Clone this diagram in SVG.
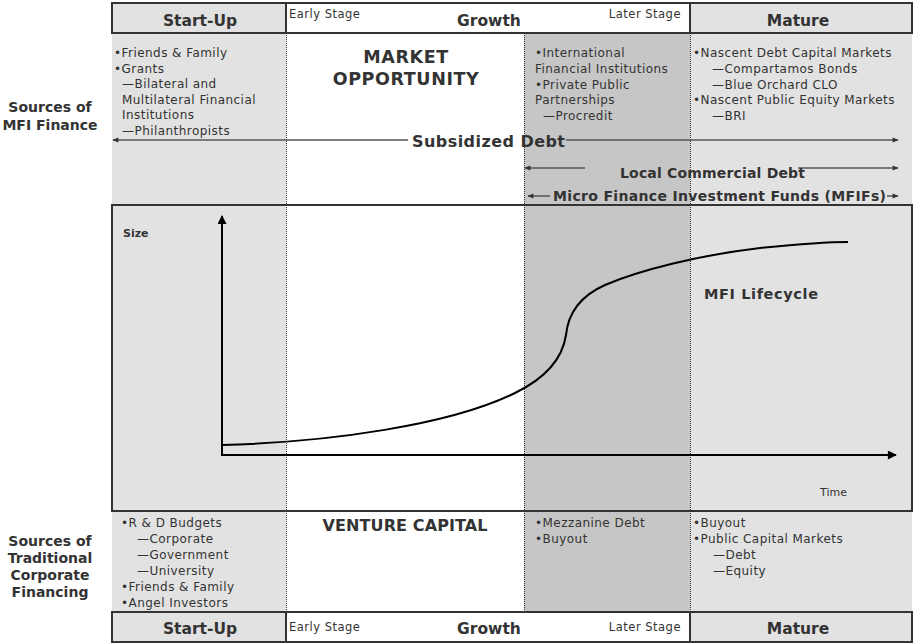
<svg xmlns="http://www.w3.org/2000/svg" width="916" height="644" viewBox="0 0 916 644">
<defs>
<marker id="ah" viewBox="0 0 10 10" refX="9" refY="5" markerWidth="7" markerHeight="6" markerUnits="userSpaceOnUse" orient="auto-start-reverse"><path d="M0,1 L10,5 L0,9 z" fill="#333"/></marker>
<marker id="axh" viewBox="0 0 10 10" refX="9" refY="5" markerWidth="11" markerHeight="9" markerUnits="userSpaceOnUse" orient="auto"><path d="M0,0 L10,5 L0,10 z" fill="#000"/></marker>
<style>
.t{font-family:"DejaVu Sans",Verdana,sans-serif;fill:#333}
.s{font-size:12px;letter-spacing:0.45px}
.sm{font-size:11.5px;letter-spacing:0.5px}
.b{font-weight:bold}
.hd{font-size:15.5px;font-weight:bold;text-anchor:middle}
.mid{text-anchor:middle}
.bg1{fill:#e2e2e2}
.bg2{fill:#c6c6c6}
.dot{stroke:#333;stroke-width:1;stroke-dasharray:1 1;fill:none}
.frame{fill:none;stroke:#333;stroke-width:2}
.arr{stroke:#555;stroke-width:1.5;fill:none}
.axis{stroke:#000;stroke-width:2;fill:none}
</style>
</defs>
<rect width="916" height="644" fill="#fff"/>
<g id="columns">
<rect class="bg1" x="112" y="33" width="174" height="579"/>
<rect class="bg2" x="524" y="33" width="166" height="579"/>
<rect class="bg1" x="690" y="33" width="222" height="579"/>
<line class="dot" x1="286.5" y1="33" x2="286.5" y2="612"/>
<line class="dot" x1="524.5" y1="33" x2="524.5" y2="612"/>
<line class="dot" x1="690.5" y1="33" x2="690.5" y2="612"/>
</g>
<g id="header-top">
<rect class="bg1" x="112" y="3" width="174" height="30"/>
<rect x="286" y="3" width="404" height="30" fill="#fff"/>
<rect class="bg1" x="690" y="3" width="222" height="30"/>
<rect class="frame" x="112" y="3" width="800" height="30"/>
<line stroke="#333" stroke-width="2" x1="286" y1="3" x2="286" y2="33"/>
<line stroke="#333" stroke-width="2" x1="690" y1="3" x2="690" y2="33"/>
<text class="t hd" x="200" y="26">Start-Up</text>
<text class="t sm" x="289" y="18">Early Stage</text>
<text class="t hd" x="489" y="26">Growth</text>
<text class="t sm" x="681" y="18" text-anchor="end">Later Stage</text>
<text class="t hd" x="798" y="26">Mature</text>
</g>
<g id="header-bottom">
<rect class="bg1" x="112" y="612" width="174" height="30"/>
<rect x="286" y="612" width="404" height="30" fill="#fff"/>
<rect class="bg1" x="690" y="612" width="222" height="30"/>
<rect class="frame" x="112" y="612" width="800" height="30"/>
<line stroke="#333" stroke-width="2" x1="286" y1="612" x2="286" y2="642"/>
<line stroke="#333" stroke-width="2" x1="690" y1="612" x2="690" y2="642"/>
<text class="t hd" x="200" y="634">Start-Up</text>
<text class="t sm" x="289" y="631">Early Stage</text>
<text class="t hd" x="489" y="634">Growth</text>
<text class="t sm" x="681" y="631" text-anchor="end">Later Stage</text>
<text class="t hd" x="798" y="634">Mature</text>
</g>
<g id="row-label-mfi">
<text class="t b mid" font-size="14" x="50" y="112">Sources of</text>
<text class="t b mid" font-size="14" x="50" y="130">MFI Finance</text>
</g>
<g id="row-label-traditional">
<text class="t b mid" font-size="14" x="50" y="546">Sources of</text>
<text class="t b mid" font-size="14" x="50" y="563">Traditional</text>
<text class="t b mid" font-size="14" x="50" y="580">Corporate</text>
<text class="t b mid" font-size="14" x="50" y="597">Financing</text>
</g>
<g id="mfi-startup">
<text class="t s"><tspan x="114" y="57">•Friends &amp; Family</tspan><tspan x="114" y="72.5">•Grants</tspan><tspan x="122" y="88">—Bilateral and</tspan><tspan x="122" y="103.5">Multilateral Financial</tspan><tspan x="122" y="119">Institutions</tspan><tspan x="122" y="134.5">—Philanthropists</tspan></text>
</g>
<g id="mfi-early">
<text class="t b mid" font-size="17.5" letter-spacing="0.6"><tspan x="406" y="63">MARKET</tspan><tspan x="406" y="85">OPPORTUNITY</tspan></text>
</g>
<g id="mfi-later">
<text class="t s"><tspan x="535" y="57">•International</tspan><tspan x="535" y="73">Financial Institutions</tspan><tspan x="535" y="88.5">•Private Public</tspan><tspan x="535" y="104">Partnerships</tspan><tspan x="543" y="120">—Procredit</tspan></text>
</g>
<g id="mfi-mature">
<text class="t s"><tspan x="693" y="57">•Nascent Debt Capital Markets</tspan><tspan x="712" y="73">—Compartamos Bonds</tspan><tspan x="712" y="88.5">—Blue Orchard CLO</tspan><tspan x="693" y="104">•Nascent Public Equity Markets</tspan><tspan x="712" y="120">—BRI</tspan></text>
</g>
<g id="connectors">
<line class="arr" x1="408" y1="140" x2="113" y2="140" marker-end="url(#ah)"/>
<line class="arr" x1="566" y1="140" x2="898" y2="140" marker-end="url(#ah)"/>
<line class="arr" x1="585" y1="168" x2="525" y2="168" marker-end="url(#ah)"/>
<line class="arr" x1="798" y1="168" x2="898" y2="168" marker-end="url(#ah)"/>
<line class="arr" x1="550" y1="196" x2="528" y2="196" marker-end="url(#ah)"/>
<line class="arr" x1="887" y1="196" x2="898" y2="196" marker-end="url(#ah)"/>
</g>
<g id="funding-labels">
<text class="t b" font-size="16" x="412" y="147" textLength="153">Subsidized Debt</text>
<text class="t b" font-size="14" x="620" y="178" textLength="185">Local Commercial Debt</text>
<text class="t b" font-size="14" x="553" y="201" textLength="333">Micro Finance Investment Funds (MFIFs)</text>
</g>
<g id="lifecycle-chart">
<rect class="frame" x="112" y="205" width="800" height="306"/>
<line class="axis" x1="222" y1="456" x2="222" y2="216" marker-end="url(#axh)"/>
<line class="axis" x1="221" y1="455" x2="896" y2="455" marker-end="url(#axh)"/>
<path class="axis" d="M222,445 C330,442 450,425 515,393 C550,376 563,355 566,335 C568,315 578,297 605,285 C640,270 700,255 760,248 C800,244 830,242 848,242"/>
<text class="t b" font-size="11" x="123" y="237">Size</text>
<text class="t" font-size="11" x="820" y="496">Time</text>
<text class="t b" font-size="14.5" x="704" y="299" textLength="114">MFI Lifecycle</text>
</g>
<g id="trad-startup">
<text class="t s"><tspan x="121" y="527">•R &amp; D Budgets</tspan><tspan x="137" y="543">—Corporate</tspan><tspan x="137" y="559">—Government</tspan><tspan x="137" y="575">—University</tspan><tspan x="121" y="591">•Friends &amp; Family</tspan><tspan x="121" y="607">•Angel Investors</tspan></text>
</g>
<g id="trad-early">
<text class="t b mid" font-size="16" x="405" y="531" textLength="165">VENTURE CAPITAL</text>
</g>
<g id="trad-later">
<text class="t s"><tspan x="535" y="527">•Mezzanine Debt</tspan><tspan x="535" y="543">•Buyout</tspan></text>
</g>
<g id="trad-mature">
<text class="t s"><tspan x="693" y="527">•Buyout</tspan><tspan x="693" y="543">•Public Capital Markets</tspan><tspan x="713" y="559">—Debt</tspan><tspan x="713" y="575">—Equity</tspan></text>
</g>
</svg>
